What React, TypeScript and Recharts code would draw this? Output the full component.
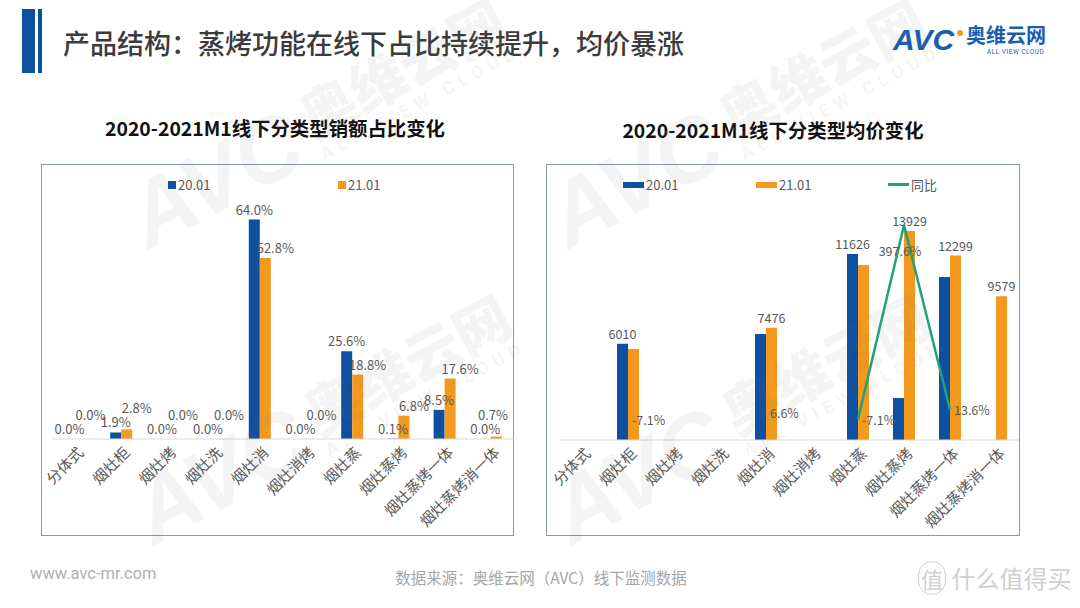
import React from "react";
import {
  BarChart,
  ComposedChart,
  Bar,
  Line,
  XAxis,
  YAxis,
  LabelList,
} from "recharts";

const categories = [
  "分体式",
  "烟灶柜",
  "烟灶烤",
  "烟灶洗",
  "烟灶消",
  "烟灶消烤",
  "烟灶蒸",
  "烟灶蒸烤",
  "烟灶蒸烤一体",
  "烟灶蒸烤消一体",
];

// share of offline sales (%)
const share2001 = [0, 1.9, 0, 0, 64.0, 0, 25.6, 0.1, 8.5, 0];
const share2101 = [0, 2.8, 0, 0, 52.8, 0, 18.8, 6.8, 17.6, 0.7];

// average price (yuan)
const price2001 = [null, 6010, null, null, 6625, null, 11626, 2625, 10188, null];
const price2101 = [null, 6067, null, null, 7476, null, 11667, 13929, 12299, 9579];
const priceLabel2001 = ["", "6010", "", "", "", "", "11626", "", "", ""];
const priceLabel2101 = ["", "", "", "", "7476", "", "", "13929", "12299", "9579"];
const yoy = [null, -7.1, null, null, 6.6, null, -7.1, 397.6, 13.6, null];

const BLUE = "#0d4fa0";
const ORANGE = "#f39a1e";
const GREEN = "#1fa37c";
const FONT = "'Noto Sans CJK SC', 'Noto Sans', sans-serif";

const shareData = categories.map((c, i) => ({
  cat: c,
  a: share2001[i],
  b: share2101[i],
}));

const priceData = categories.map((c, i) => ({
  cat: c,
  a: price2001[i],
  b: price2101[i],
  la: priceLabel2001[i],
  lb: priceLabel2101[i],
  yoy: yoy[i],
}));

const AxisTick = (props: any) => {
  const { x, y, payload } = props;
  return (
    <g transform={`translate(${x + 5},${y + 2})`}>
      <text
        transform="rotate(-45)"
        textAnchor="end"
        dominantBaseline="central"
        fill="#595959"
        fontSize={15}
        fontFamily={FONT}
      >
        {payload.value}
      </text>
    </g>
  );
};

const labelStyle = { fill: "#595959", fontSize: 13, fontFamily: FONT };

const pct = (v: any) => `${Number(v).toFixed(1)}%`;

// orange share labels sit a little to the right of their bar; when the blue
// label next to them is at nearly the same height they are lifted a line
const ShiftedLabel = (props: any) => {
  const { x, y, width, value, index } = props;
  const gap = Math.abs(share2101[index] - share2001[index]) * 3.43;
  const lift = gap < 14 ? 14 - gap : 0;
  const cx = Math.min(x + width / 2 + 10, 452);
  return (
    <text x={cx} y={y - 5 - lift} textAnchor="middle" {...labelStyle}>
      {pct(value)}
    </text>
  );
};

// yoy labels: to the right of the point, the peak one just under it
const YoyLabel = (props: any) => {
  const { x, y, value } = props;
  if (value == null || x == null || y == null) return null;
  const peak = Number(value) > 100;
  return (
    <text
      x={peak ? x - 4 : x + 4}
      y={peak ? y + 25 : y}
      textAnchor={peak ? "middle" : "start"}
      dominantBaseline="central"
      {...labelStyle}
      fontSize={12.5}
    >
      {pct(value)}
    </text>
  );
};

function LegendRow({ items }: { items: { x: number; label: string; kind: string; color: string }[] }) {
  return (
    <>
      {items.map((it) => (
        <div
          key={it.label}
          style={{
            position: "absolute",
            left: it.x,
            top: 10,
            display: "flex",
            alignItems: "center",
            fontSize: 13,
            color: "#595959",
            fontFamily: FONT,
          }}
        >
          <span
            style={{
              display: "inline-block",
              width: it.kind === "square" ? 8 : 21,
              height: it.kind === "square" ? 8 : it.kind === "line" ? 3 : 6,
              background: it.color,
              marginRight: 2,
            }}
          />
          {it.label}
        </div>
      ))}
    </>
  );
}

function Watermark({ left, top }: { left: number; top: number }) {
  return (
    <div
      style={{
        position: "absolute",
        left,
        top,
        transform: "rotate(-28deg)",
        transformOrigin: "left bottom",
        color: "rgba(110,110,110,0.08)",
        whiteSpace: "nowrap",
        pointerEvents: "none",
        display: "flex",
        alignItems: "flex-end",
      }}
    >
      <span style={{ fontSize: 90, fontWeight: 900, fontStyle: "italic", fontFamily: "'Liberation Sans', sans-serif", lineHeight: "90px" }}>
        AVC
      </span>
      <span style={{ display: "flex", flexDirection: "column", marginLeft: 14, marginBottom: 6 }}>
        <span style={{ fontSize: 56, fontWeight: 900, lineHeight: "60px" }}>奥维云网</span>
        <span style={{ fontSize: 18, fontWeight: 700, letterSpacing: 6, fontFamily: "Roboto, sans-serif" }}>ALL VIEW CLOUD</span>
      </span>
    </div>
  );
}

export default function App() {
  return (
    <div
      style={{
        position: "absolute",
        left: 0,
        top: 0,
        width: 1080,
        height: 608,
        background: "#fff",
        overflow: "hidden",
        fontFamily: FONT,
      }}
    >
      {/* header */}
      <div style={{ position: "absolute", left: 22, top: 9, width: 13, height: 64, background: "#0d4fa0" }} />
      <div style={{ position: "absolute", left: 38, top: 9, width: 4, height: 64, background: "#0d4fa0" }} />
      <div
        style={{
          position: "absolute",
          left: 63,
          top: 25,
          fontSize: 27,
          fontWeight: 500,
          lineHeight: "36px",
          color: "#3b3b3b",
          whiteSpace: "nowrap",
        }}
      >
        产品结构：蒸烤功能在线下占比持续提升，均价暴涨
      </div>
      {/* logo */}
      <div
        style={{
          position: "absolute",
          left: 893,
          top: 22,
          fontSize: 30,
          fontWeight: 900,
          fontStyle: "italic",
          color: "#1a5eb0",
          fontFamily: "'Liberation Sans', sans-serif",
          lineHeight: "36px",
        }}
      >
        AVC
      </div>
      <div style={{ position: "absolute", left: 957, top: 30, width: 6, height: 6, borderRadius: 3, background: ORANGE }} />
      <div style={{ position: "absolute", left: 966, top: 24, fontSize: 20, fontWeight: 700, color: "#1a5eb0", lineHeight: "22px" }}>
        奥维云网
      </div>
      <div style={{ position: "absolute", left: 987, top: 48, fontSize: 6.5, lineHeight: "8px", color: "#1a5eb0", letterSpacing: 0.5, fontFamily: "Roboto, sans-serif" }}>
        ALL VIEW CLOUD
      </div>

      {/* chart titles */}
      <div style={{ position: "absolute", left: 275, top: 127, transform: "translate(-50%,-50%)", fontSize: 19.4, fontWeight: 700, color: "#111", whiteSpace: "nowrap" }}>
        2020-2021M1线下分类型销额占比变化
      </div>
      <div style={{ position: "absolute", left: 773, top: 129, transform: "translate(-50%,-50%)", fontSize: 19.4, fontWeight: 700, color: "#111", whiteSpace: "nowrap" }}>
        2020-2021M1线下分类型均价变化
      </div>

      {/* left chart */}
      <div style={{ position: "absolute", left: 41, top: 164, width: 473, height: 372, border: "1px solid #8799ad", boxSizing: "border-box" }}>
        <LegendRow
          items={[
            { x: 126, label: "20.01", kind: "square", color: BLUE },
            { x: 296, label: "21.01", kind: "square", color: ORANGE },
          ]}
        />
        <BarChart
          width={473}
          height={372}
          data={shareData}
          margin={{ top: 35, right: 0, left: 11, bottom: 0 }}
          barSize={11}
          barGap={0}
          style={{ position: "absolute", left: -1, top: -1 }}
        >
          <XAxis
            dataKey="cat"
            interval={0}
            height={97}
            tick={<AxisTick />}
            tickLine={false}
            axisLine={{ stroke: "#d9d9d9" }}
          />
          <YAxis hide domain={[0, 70]} tickCount={8} allowDataOverflow />
          <Bar dataKey="a" fill={BLUE} minPointSize={0.01} isAnimationActive={false}>
            <LabelList dataKey="a" position="top" offset={5} formatter={pct} style={labelStyle} />
          </Bar>
          <Bar dataKey="b" fill={ORANGE} minPointSize={0.01} isAnimationActive={false}>
            <LabelList dataKey="b" content={<ShiftedLabel />} />
          </Bar>
        </BarChart>
      </div>

      {/* right chart */}
      <div style={{ position: "absolute", left: 546, top: 164, width: 474, height: 372, border: "1px solid #8799ad", boxSizing: "border-box" }}>
        <LegendRow
          items={[
            { x: 76, label: "20.01", kind: "rect", color: BLUE },
            { x: 209, label: "21.01", kind: "rect", color: ORANGE },
            { x: 341, label: "同比", kind: "line", color: GREEN },
          ]}
        />
        <ComposedChart
          width={474}
          height={372}
          data={priceData}
          margin={{ top: 36, right: 1, left: 13, bottom: 0 }}
          barSize={11}
          barGap={0}
          style={{ position: "absolute", left: -1, top: -1 }}
        >
          <XAxis
            dataKey="cat"
            interval={0}
            height={96}
            tick={<AxisTick />}
            tickLine={false}
            axisLine={{ stroke: "#d9d9d9" }}
          />
          <YAxis yAxisId="b" hide domain={[0, 15000]} tickCount={6} allowDataOverflow />
          <YAxis yAxisId="o" hide domain={[0, 16000]} tickCount={5} allowDataOverflow />
          <YAxis yAxisId="p" hide domain={[-50, 450]} tickCount={11} allowDataOverflow />
          <Bar yAxisId="b" dataKey="a" fill={BLUE} isAnimationActive={false}>
            <LabelList dataKey="la" position="top" offset={5} style={{ ...labelStyle, fontSize: 12.5 }} />
          </Bar>
          <Bar yAxisId="o" dataKey="b" fill={ORANGE} isAnimationActive={false}>
            <LabelList dataKey="lb" position="top" offset={5} style={{ ...labelStyle, fontSize: 12.5 }} />
          </Bar>
          <Line
            yAxisId="p"
            dataKey="yoy"
            stroke={GREEN}
            strokeWidth={2.5}
            dot={false}
            activeDot={false}
            isAnimationActive={false}
          >
            <LabelList dataKey="yoy" content={<YoyLabel />} />
          </Line>
        </ComposedChart>
      </div>

      {/* faint brand watermarks */}
      <Watermark left={155} top={172} />
      <Watermark left={575} top={172} />
      <Watermark left={160} top={468} />
      <Watermark left={578} top={468} />

      {/* footer */}
      <div style={{ position: "absolute", left: 30, top: 564, fontSize: 16.5, color: "#b0b0b0", fontFamily: "Roboto, sans-serif" }}>
        www.avc-mr.com
      </div>
      <div style={{ position: "absolute", left: 541, top: 577, transform: "translate(-50%,-50%)", fontSize: 15.5, color: "#a6a6a6", whiteSpace: "nowrap" }}>
        数据来源：奥维云网（AVC）线下监测数据
      </div>
      <div style={{ position: "absolute", left: 918, top: 563, fontSize: 24, color: "#d0d0d0", whiteSpace: "nowrap", lineHeight: "30px" }}>
        <span style={{ border: "1px solid #d0d0d0", borderRadius: 16, padding: "0 2px", fontSize: 22 }}>值</span> 什么值得买
      </div>
    </div>
  );
}
